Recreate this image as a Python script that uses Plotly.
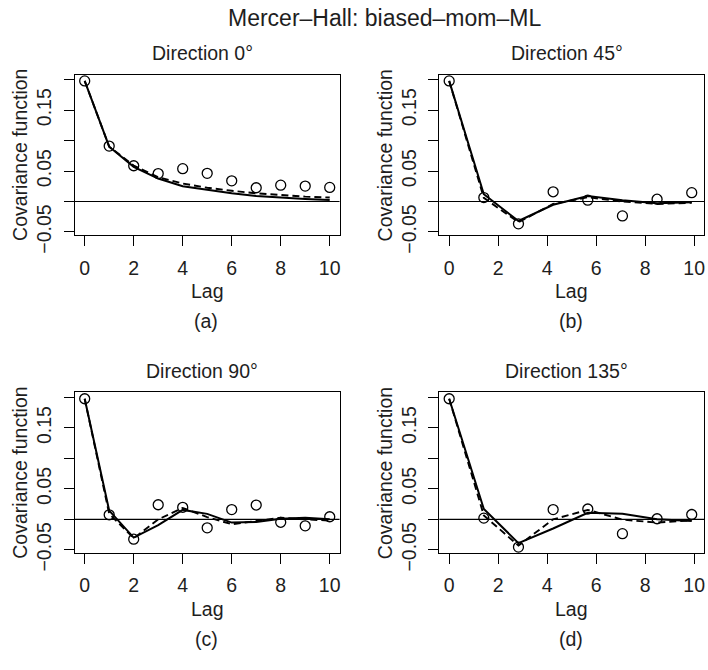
import plotly.graph_objects as go

W, H = 708, 670

# Lags along the axis directions (0 and 90 degrees) and along the diagonals (45 and 135 degrees)
lag_axis = [0, 1, 2, 3, 4, 5, 6, 7, 8, 9, 10]
lag_diag = [0, 1.414, 2.828, 4.243, 5.657, 7.071, 8.485, 9.899]

# Direction 0
emp_0 = [0.198, 0.091, 0.0587, 0.0458, 0.0539, 0.0463, 0.0339, 0.0226, 0.0269, 0.0253, 0.0232]
mom_0 = [0.198, 0.090, 0.057, 0.0377, 0.025, 0.0188, 0.0135, 0.0092, 0.0065, 0.0043, 0.0027]
ml_0 = [0.198, 0.090, 0.059, 0.040, 0.0296, 0.0226, 0.0177, 0.0135, 0.0108, 0.008, 0.0065]

# Direction 45
emp_45 = [0.198, 0.0065, -0.0366, 0.016, 0.0022, -0.0236, 0.0038, 0.0145]
mom_45 = [0.198, 0.012, -0.032, -0.0054, 0.0092, 0.0022, -0.0027, -0.001]
ml_45 = [0.198, 0.006, -0.034, -0.004, 0.007, 0.000, -0.004, -0.002]

# Direction 90
emp_90 = [0.198, 0.0075, -0.0326, 0.024, 0.0198, -0.0139, 0.016, 0.0235, -0.0048, -0.0107, 0.0043]
mom_90 = [0.198, 0.0144, -0.030, -0.0096, 0.0155, 0.009, -0.0053, -0.0043, 0.001, 0.0027, 0.0]
ml_90 = [0.198, 0.009, -0.031, 0.0, 0.0187, 0.0037, -0.008, -0.0027, 0.0027, 0.0, -0.002]

# Direction 135
emp_135 = [0.198, 0.002, -0.0455, 0.016, 0.017, -0.0235, 0.001, 0.008]
mom_135 = [0.198, 0.017, -0.039, -0.015, 0.0107, 0.009, 0.0, -0.0027]
ml_135 = [0.198, 0.0064, -0.043, 0.0, 0.0155, -0.0005, -0.0053, -0.0016]

y_ticks = [-0.05, 0.0, 0.05, 0.10, 0.15, 0.20]
y_tick_text = ["\u22120.05", "", "0.05", "", "0.15", ""]
x_ticks = [0, 2, 4, 6, 8, 10]
x_tick_text = ["0", "2", "4", "6", "8", "10"]

panels = [
    ("Direction 0\u00b0", "(a)", lag_axis, emp_0, mom_0, ml_0),
    ("Direction 45\u00b0", "(b)", lag_diag, emp_45, mom_45, ml_45),
    ("Direction 90\u00b0", "(c)", lag_axis, emp_90, mom_90, ml_90),
    ("Direction 135\u00b0", "(d)", lag_diag, emp_135, mom_135, ml_135),
]

FONT = "Liberation Sans, Arial, Helvetica, sans-serif"
INK = "#1e1e1e"

# Plot boxes in pixels: (left, right, top, bottom)
boxes = [
    (75, 340, 76.7, 241.7),
    (440, 705, 76.7, 241.7),
    (75, 340, 403.3, 568.3),
    (440, 705, 403.3, 568.3),
]


def px(x):
    return x / W


def py(y):
    return 1 - y / H


fig = go.Figure()
annotations = []
shapes = []

for i, (title, tag, lags, emp, mom, ml) in enumerate(panels):
    n = i + 1
    xa = "x" if n == 1 else f"x{n}"
    ya = "y" if n == 1 else f"y{n}"
    left, right, top, bottom = boxes[i]
    cx = (left + right) / 2

    fig.add_trace(go.Scatter(x=lags, y=ml, mode="lines", xaxis=xa, yaxis=ya,
                             line=dict(color="black", width=1.9, dash="7px,4px"),
                             name="ML", showlegend=False))
    fig.add_trace(go.Scatter(x=lags, y=mom, mode="lines", xaxis=xa, yaxis=ya,
                             line=dict(color="black", width=2),
                             name="Moments", showlegend=False))
    fig.add_trace(go.Scatter(x=lags, y=emp, mode="markers", xaxis=xa, yaxis=ya,
                             marker=dict(symbol="circle-open", size=10, color="black",
                                         line=dict(width=1.3, color="black")),
                             name="Empirical", showlegend=False))

    axis_common = dict(showgrid=False, zeroline=False, showline=True, mirror=True,
                       linecolor="black", linewidth=1, ticks="outside", ticklen=10,
                       tickwidth=1, tickcolor="black",
                       tickfont=dict(family=FONT, size=19.5, color=INK))
    fig.update_layout({
        ("xaxis" if n == 1 else f"xaxis{n}"): dict(
            axis_common, domain=[px(left), px(right)], range=[-0.4, 10.4],
            tickvals=x_ticks, ticktext=x_tick_text, anchor=ya, ticklabelstandoff=5),
        ("yaxis" if n == 1 else f"yaxis{n}"): dict(
            axis_common, domain=[py(bottom), py(top)], range=[-0.0553, 0.2083],
            tickvals=y_ticks, ticktext=y_tick_text, tickangle=-90, anchor=xa,
            ticklabelstandoff=5),
    })

    # reference line at zero covariance
    shapes.append(dict(type="line", xref=f"{xa} domain", yref=ya, x0=0, x1=1, y0=0, y1=0,
                       line=dict(color="black", width=1.2)))

    annotations += [
        dict(text=title, x=px(cx - 5), y=py(top - 22), xref="paper", yref="paper",
             xanchor="center", yanchor="middle", showarrow=False,
             font=dict(family=FONT, size=19.5, color=INK)),
        dict(text="Lag", x=px(cx), y=py(bottom + 57), xref="paper", yref="paper",
             xanchor="center", yanchor="middle", showarrow=False,
             font=dict(family=FONT, size=19.5, color=INK)),
        dict(text=tag, x=px(cx - 1), y=py(bottom + 88), xref="paper", yref="paper",
             xanchor="center", yanchor="middle", showarrow=False,
             font=dict(family=FONT, size=19.5, color=INK)),
        dict(text="Covariance function", x=px(left - 55), y=py((top + bottom) / 2),
             xref="paper", yref="paper", xanchor="center", yanchor="middle",
             textangle=-90, showarrow=False,
             font=dict(family=FONT, size=19.5, color=INK)),
    ]

annotations.append(dict(text="Mercer\u2013Hall: biased\u2013mom\u2013ML", x=px(385), y=py(18),
                        xref="paper", yref="paper", xanchor="center", yanchor="middle",
                        showarrow=False, font=dict(family=FONT, size=23, color=INK)))

fig.update_layout(width=W, height=H, margin=dict(l=0, r=0, t=0, b=0),
                  paper_bgcolor="white", plot_bgcolor="white",
                  annotations=annotations, shapes=shapes, showlegend=False)

fig.write_html("out.html")
